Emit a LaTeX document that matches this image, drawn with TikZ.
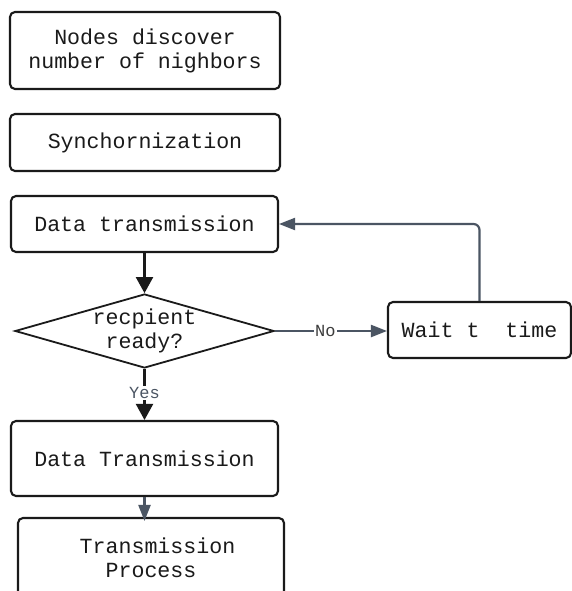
\documentclass[tikz,border=0pt]{standalone}
\usepackage{fontspec}
\setmainfont{Liberation Mono}
\usetikzlibrary{shapes.geometric,arrows.meta}
\definecolor{ink}{HTML}{1A1A1A}
\definecolor{slate}{HTML}{4B5563}
\tikzset{
  stepbox/.style={draw=ink, line width=2.1bp, rounded corners=5bp, inner sep=0pt,
    align=center, text=ink, font=\fontsize{21.6bp}{24bp}\selectfont},
  decision/.style={draw=ink, line width=1.8bp, diamond, inner sep=0pt},
  boxtext/.style={align=center, text=ink, inner sep=0pt, font=\fontsize{21.6bp}{24bp}\selectfont},
  flow/.style={draw=ink, line width=2.2bp, -{Triangle[length=16bp,width=17bp]}},
  backflow/.style={draw=slate, line width=2.2bp, -{Triangle[length=16bp,width=12bp]}},
  edgelabel/.style={fill=white, text=slate, inner sep=1pt, font=\fontsize{17bp}{18bp}\selectfont}
}
\begin{document}
\begin{tikzpicture}[x=1bp,y=-1bp]
  \clip (0,0) rectangle (572,591);
  \fill[white] (0,0) rectangle (572,591);

  % main column
  \node[stepbox, minimum width=270bp, minimum height=77bp] (discover) at (145,50.5)
    {Nodes discover\\number of nighbors};
  \node[stepbox, minimum width=270bp, minimum height=57bp] (sync) at (145,142.5)
    {Synchornization};
  \node[stepbox, minimum width=267bp, minimum height=56bp] (dt) at (144.5,224)
    {Data transmission};
  \node[decision, minimum width=259bp, minimum height=74bp] (ready) at (144.5,331) {};
  \node[boxtext] (readyq) at (ready.center) {recpient\\ready?};
  \node[stepbox, minimum width=267bp, minimum height=75bp] (dtx) at (144.5,458.5)
    {Data Transmission};
  \node[stepbox, minimum width=266bp, minimum height=80bp] (proc) at (151,558)
    {\ Transmission\\Process};

  % waiting branch
  \node[stepbox, minimum width=183bp, minimum height=56bp] (wait) at (479.5,330)
    {Wait t\ \ time};

  % connectors
  \draw[flow] (dt.south) -- (ready.north);
  \draw[flow] (ready.south) -- node[edgelabel, pos=0.47] (yes) {Yes} (dtx.north);
  \draw[backflow] (ready.east) -- node[edgelabel, pos=0.45, text=ink!85] (no) {No}
    (ready.east -| wait.west);
  \draw[backflow, rounded corners=6bp] (wait.north) |- (dt.east);
  \draw[backflow] (dtx.south) -- ([yshift=-4bp]proc.north -| dtx.south);
\end{tikzpicture}
\end{document}
